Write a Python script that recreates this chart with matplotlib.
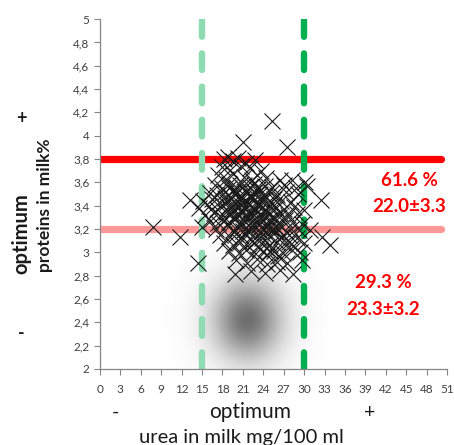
import numpy as np
import matplotlib
matplotlib.use("Agg")
import matplotlib.pyplot as plt

plt.rcParams["font.family"] = ["Lato", "DejaVu Sans"]

# (urea mg/100 ml, protein %) for each cow
cows = [
    (25.3, 4.13), (21.0, 3.95), (27.5, 3.90), (22.8, 3.79),
    (18.2, 3.80), (18.8, 3.82), (19.6, 3.78), (20.3, 3.81), (21.4, 3.77),
    (17.9, 3.73), (19.1, 3.71), (20.7, 3.74), (22.0, 3.72), (23.6, 3.70),
    (17.4, 3.66), (18.5, 3.63), (19.5, 3.67), (21.1, 3.65), (22.3, 3.62),
    (23.1, 3.66), (24.4, 3.64), (26.5, 3.62), (28.2, 3.62), (30.1, 3.60),
    (16.9, 3.58), (18.0, 3.55), (18.9, 3.59), (20.0, 3.56), (21.2, 3.58),
    (22.6, 3.59), (23.4, 3.55), (24.2, 3.57), (25.3, 3.56), (27.0, 3.58),
    (28.8, 3.55), (30.4, 3.57),
    (16.1, 3.51), (17.2, 3.49), (18.3, 3.52), (19.6, 3.53), (20.5, 3.48),
    (22.0, 3.49), (22.7, 3.52), (23.5, 3.50), (24.3, 3.48), (25.1, 3.51),
    (26.0, 3.49), (27.3, 3.52), (29.1, 3.50),
    (13.2, 3.45), (15.1, 3.44), (16.4, 3.46), (17.5, 3.43), (18.3, 3.47),
    (19.0, 3.45), (20.6, 3.46), (21.4, 3.44), (22.2, 3.47), (23.8, 3.45),
    (24.6, 3.42), (25.5, 3.46), (26.6, 3.44), (28.0, 3.43), (32.4, 3.45),
    (14.6, 3.38), (16.0, 3.40), (17.2, 3.37), (18.0, 3.41), (18.8, 3.39),
    (19.6, 3.36), (20.3, 3.40), (21.1, 3.38), (21.9, 3.41), (22.6, 3.37),
    (23.4, 3.39), (24.2, 3.36), (25.0, 3.40), (25.9, 3.38), (27.1, 3.37),
    (28.5, 3.39), (30.0, 3.36),
    (15.5, 3.32), (16.8, 3.34), (17.7, 3.31), (18.5, 3.35), (19.3, 3.33),
    (20.0, 3.30), (20.8, 3.34), (21.6, 3.32), (23.1, 3.35), (23.9, 3.31),
    (24.7, 3.33), (25.6, 3.30), (26.4, 3.34), (27.6, 3.32), (29.0, 3.33),
    (16.2, 3.27), (17.4, 3.25), (18.2, 3.28), (19.0, 3.26), (19.8, 3.29),
    (20.5, 3.24), (21.3, 3.27), (22.1, 3.25), (23.7, 3.26), (24.5, 3.24),
    (25.3, 3.27), (26.2, 3.25), (27.2, 3.28), (28.3, 3.26), (29.7, 3.24),
    (7.8, 3.22), (15.0, 3.22), (17.0, 3.20), (18.6, 3.23), (19.5, 3.19),
    (20.3, 3.21), (21.0, 3.18), (22.0, 3.22), (23.4, 3.23), (24.1, 3.19),
    (25.0, 3.21), (25.8, 3.18), (26.8, 3.22), (28.0, 3.20), (29.3, 3.19),
    (30.9, 3.19),
    (11.8, 3.13), (17.6, 3.15), (19.0, 3.14), (20.0, 3.16), (20.9, 3.13),
    (21.7, 3.17), (22.5, 3.15), (23.3, 3.12), (24.0, 3.16), (24.9, 3.14),
    (25.7, 3.17), (26.6, 3.13), (27.7, 3.15), (29.0, 3.12), (32.6, 3.13),
    (18.2, 3.08), (19.6, 3.06), (20.6, 3.09), (21.5, 3.07), (22.3, 3.10),
    (23.2, 3.05), (25.0, 3.06), (26.0, 3.09), (27.1, 3.07), (28.4, 3.05),
    (30.0, 3.08), (33.8, 3.06),
    (19.0, 3.01), (20.5, 2.99), (21.4, 3.02), (22.6, 3.00), (23.5, 3.03),
    (24.6, 2.98), (25.6, 3.01), (26.9, 2.99), (28.2, 3.02), (29.4, 3.00),
    (14.4, 2.91), (20.0, 2.93), (21.6, 2.91), (23.0, 2.94), (24.6, 2.90),
    (26.0, 2.92), (27.5, 2.91), (29.7, 2.93),
    (19.9, 2.81), (22.2, 2.84), (24.3, 2.82), (26.4, 2.85), (28.4, 2.81),
    # dense core of the herd
    (19.3, 3.47), (20.7, 3.41), (21.5, 3.52), (22.8, 3.37), (20.1, 3.33),
    (23.6, 3.44), (21.9, 3.29), (24.4, 3.36), (19.8, 3.52), (22.3, 3.48),
    (20.9, 3.25), (23.2, 3.31), (21.2, 3.39), (24.9, 3.28), (19.5, 3.38),
    (22.6, 3.22), (20.4, 3.46), (23.9, 3.20), (21.7, 3.35), (25.6, 3.41),
    (18.7, 3.43), (22.0, 3.56), (24.1, 3.49), (20.6, 3.58), (23.0, 3.27),
    (21.4, 3.31), (19.9, 3.42), (22.9, 3.43), (25.2, 3.18), (24.6, 3.24),
    (21.0, 3.47), (23.4, 3.53), (26.3, 3.30), (20.2, 3.51), (22.4, 3.34),
    (18.9, 3.55), (25.8, 3.22), (26.9, 3.15), (27.8, 3.09), (23.8, 3.12),
    (21.8, 3.19), (24.4, 3.04), (22.7, 3.08), (26.1, 2.97), (25.0, 3.01),
]
urea = [c[0] for c in cows]
protein = [c[1] for c in cows]

# optimum bands
protein_limits = [3.8, 3.2]
protein_colors = ["#ff0000", "#ff9999"]
urea_limits = [15, 30]
urea_colors = ["#8fdbb2", "#00b050"]

# share and mean urea of the two protein groups
group_pct = ["61.6 %", "29.3 %"]
group_mean = ["22.0±3.3", "23.3±3.2"]
group_x = [45.4, 41.6]
group_y = [(3.62, 3.39), (2.74, 2.51)]

x_ticks = np.arange(0, 52, 3)
y_ticks = np.round(np.arange(2.0, 5.01, 0.2), 1)
y_tick_labels = [f"{v:g}".replace(".", ",") for v in y_ticks]

fig = plt.figure(figsize=(4.54, 4.45), dpi=100)
ax = fig.add_axes([0.220, 0.171, 0.765, 0.786])
ax.set_xlim(0, 51)
ax.set_ylim(2, 5)

# shaded density spot in the low-protein zone
gx, gy = np.meshgrid(np.linspace(0, 51, 400), np.linspace(2, 5, 400))
dens = 0.52 * np.exp(-0.5 * (((gx - 21.6) / 3.4) ** 2 + ((gy - 2.42) / 0.23) ** 2))
dens += 0.05 * np.exp(-0.5 * (((gx - 21.6) / 6.0) ** 2 + ((gy - 2.42) / 0.40) ** 2))
rgba = np.zeros(gx.shape + (4,))
rgba[..., 3] = np.clip(dens, 0, 1)
ax.imshow(rgba, extent=[0, 51, 2, 5], origin="lower", aspect="auto",
          interpolation="bilinear", zorder=0)

for lim, col in zip(protein_limits, protein_colors):
    ax.plot([0, 50.1], [lim, lim], color=col, lw=5.2, solid_capstyle="round", zorder=1)

for lim, col in zip(urea_limits, urea_colors):
    ax.plot([lim, lim], [2, 5], color=col, lw=4.6, dashes=(2.6, 2.6),
            dash_capstyle="round", zorder=2)

ax.plot(urea, protein, linestyle="none", marker="x", ms=11, mew=0.8,
        color="#1a1a1a", zorder=3)

for pct, mean, tx, (ty1, ty2) in zip(group_pct, group_mean, group_x, group_y):
    ax.text(tx, ty1, pct, color="#ff0000", fontsize=13.5, fontweight="bold",
            ha="center", va="center")
    ax.text(tx, ty2, mean, color="#ff0000", fontsize=13.5, fontweight="bold",
            ha="center", va="center")

ax.set_xticks(x_ticks)
ax.set_yticks(y_ticks)
ax.set_yticklabels(y_tick_labels)
ax.tick_params(direction="out", length=4, width=0.8, color="#868686",
               labelsize=8.5, labelcolor="#404040")
ax.tick_params(axis="x", pad=7)
for side in ("top", "right"):
    ax.spines[side].set_visible(False)
for side in ("left", "bottom"):
    ax.spines[side].set_color("#868686")
    ax.spines[side].set_linewidth(0.9)

# axis captions, placed in pixels of the 454x445 canvas
W, H = 454, 445
def put(px, py, s, **kw):
    fig.text(px / W, 1 - py / H, s, ha="center", va="center", color="#1a1a1a", **kw)

put(115, 412, "-", fontsize=14)
put(250, 412, "optimum", fontsize=15)
put(370, 412, "+", fontsize=14)
put(241, 437, "urea in milk mg/100 ml", fontsize=14.5)

put(21, 118, "+", fontsize=13, fontweight="bold")
put(21, 234, "optimum", fontsize=14.5, fontweight="bold", rotation=90)
put(45, 205, "proteins in milk%", fontsize=12.5, fontweight="bold", rotation=90)
put(21, 333, "-", fontsize=13, fontweight="bold")

fig.savefig("out.png", dpi=100)
